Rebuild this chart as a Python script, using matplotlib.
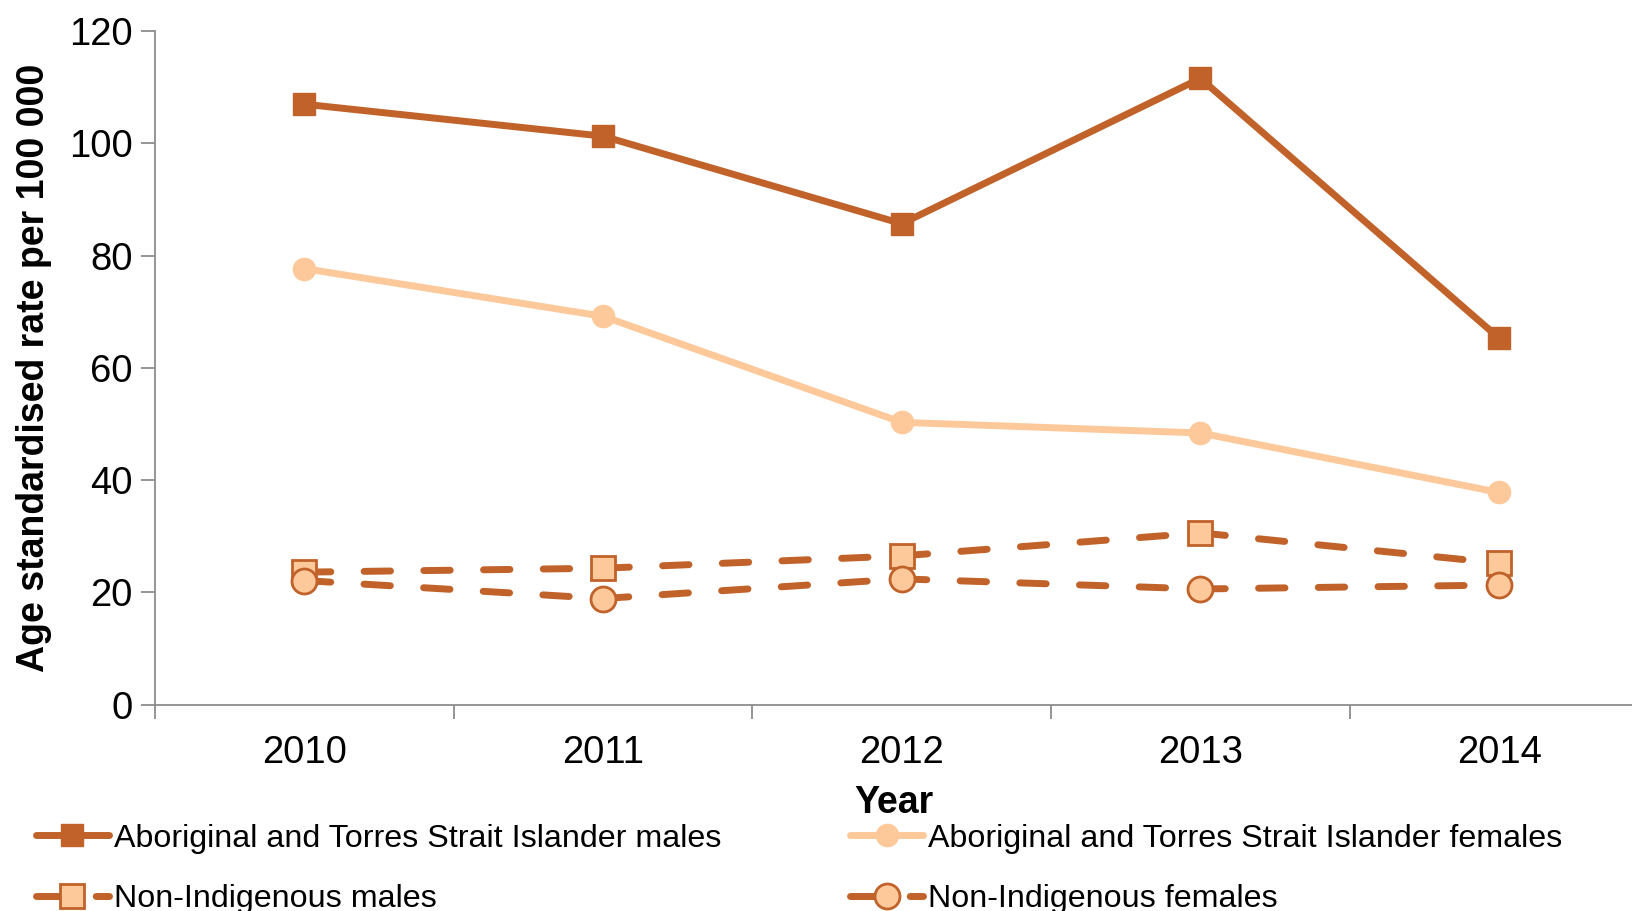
import matplotlib
matplotlib.use("Agg")
import matplotlib.pyplot as plt

plt.rcParams['font.family'] = ['Liberation Sans', 'DejaVu Sans']

years = ["2010", "2011", "2012", "2013", "2014"]
atsi_males = [107.0, 101.3, 85.7, 111.6, 65.3]
atsi_females = [77.7, 69.2, 50.3, 48.4, 37.8]
nonind_males = [23.6, 24.3, 26.5, 30.6, 25.2]
nonind_females = [22.1, 18.9, 22.4, 20.6, 21.3]

labels = [
    "Aboriginal and Torres Strait Islander males",
    "Aboriginal and Torres Strait Islander females",
    "Non-Indigenous males",
    "Non-Indigenous females",
]

dark = "#C0622A"
light = "#FDC99B"

fig = plt.figure(figsize=(16.32, 9.11), dpi=100)
ax = fig.add_axes([0.095, 0.2266, 0.905, 0.7391])

x = list(range(len(years)))
lw = 5.0
dash = (3.8, 4.8)

l_m, = ax.plot(x, atsi_males, color=dark, lw=lw, marker='s', ms=16,
               mfc=dark, mec=dark, solid_capstyle='round', zorder=4)
l_f, = ax.plot(x, atsi_females, color=light, lw=lw, marker='o', ms=16,
               mfc=light, mec=light, solid_capstyle='round', zorder=3)
l_nm, = ax.plot(x, nonind_males, color=dark, lw=lw, ls=(0, dash), marker='s', ms=17,
                mfc=light, mec=dark, mew=2, dash_capstyle='round', zorder=5)
l_nf, = ax.plot(x, nonind_females, color=dark, lw=lw, ls=(0, dash), marker='o', ms=18,
                mfc=light, mec=dark, mew=2, dash_capstyle='round', zorder=6)

ax.set_xlim(-0.5, 4.445)
ax.set_ylim(0, 120)
ax.set_yticks(range(0, 121, 20))
ax.set_xticks(x)
ax.set_xticklabels(years)
ax.set_xticks([i - 0.5 for i in range(len(years))], minor=True)

for s in ("top", "right"):
    ax.spines[s].set_visible(False)
for s in ("left", "bottom"):
    ax.spines[s].set_color("#8C8C8C")
    ax.spines[s].set_linewidth(1.3)

ax.tick_params(axis='y', direction='out', length=10, width=1.3, color="#8C8C8C",
               labelsize=27.5, pad=6)
ax.tick_params(axis='x', which='major', length=0, labelsize=27.5, pad=22)
ax.tick_params(axis='x', which='minor', direction='out', length=10, width=1.3,
               color="#8C8C8C")

ax.set_ylabel("Age standardised rate per 100 000", fontsize=27, fontweight='bold',
              labelpad=12)
ax.set_xlabel("Year", fontsize=27, fontweight='bold', labelpad=10)

handles = [l_m, l_nm, l_f, l_nf]
hlabels = [labels[0], labels[2], labels[1], labels[3]]
fig.legend(handles, hlabels, loc='upper left', bbox_to_anchor=(0.022, 0.096),
           ncol=2, frameon=False, fontsize=23.2, handlelength=2.27, handletextpad=0.15,
           columnspacing=4.0, labelspacing=0.95, borderaxespad=0, borderpad=0)

fig.savefig("out.png", dpi=100)
